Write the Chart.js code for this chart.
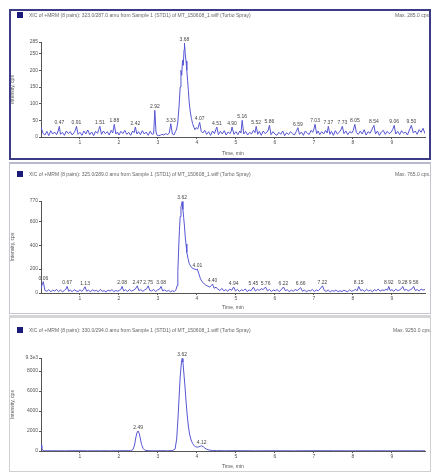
<!DOCTYPE html>
<html><head><meta charset="utf-8">
<script src="https://cdn.jsdelivr.net/npm/chart.js@4.4.1/dist/chart.umd.min.js"></script>
<style>
html,body{margin:0;padding:0;background:#fff;width:432px;height:474px;overflow:hidden;font-family:"Liberation Sans",Arial,sans-serif;}
.frame{position:absolute;box-sizing:border-box;}
canvas{position:absolute;}
.hdr{position:absolute;font-size:5px;color:#666;white-space:nowrap;line-height:6px;}
.sq{position:absolute;width:6px;height:6px;background:#1a1a7a;}
</style></head><body>
<div class="frame" style="left:9px;top:9px;width:422px;height:151px;border:2px solid #3b3b86;"></div>
<div class="frame" style="left:9px;top:162px;width:422px;height:152px;border:1px solid #c4c4d4;border-top:2px solid #b8b8cc;"></div>
<div class="frame" style="left:9px;top:315px;width:422px;height:157px;border:1px solid #d0d0d0;border-top:3px solid #d4d4d4;"></div>

<canvas id="c1" width="420" height="150" style="left:10px;top:9px;"></canvas>
<canvas id="c2" width="420" height="150" style="left:10px;top:163px;"></canvas>
<canvas id="c3" width="420" height="154" style="left:10px;top:318px;"></canvas>

<div class="sq" style="left:17px;top:12px;"></div>
<div class="hdr" style="left:29px;top:12px;">XIC of +MRM (8 pairs): 323.0/287.0 amu from Sample 1 (STD1) of MT_150608_1.wiff (Turbo Spray)</div>
<div class="hdr" style="left:395px;top:12px;">Max. 285.0 cps.</div>
<div class="sq" style="left:17px;top:171px;"></div>
<div class="hdr" style="left:29px;top:171px;">XIC of +MRM (8 pairs): 325.0/289.0 amu from Sample 1 (STD1) of MT_150608_1.wiff (Turbo Spray)</div>
<div class="hdr" style="left:395px;top:171px;">Max. 765.0 cps.</div>
<div class="sq" style="left:17px;top:327px;"></div>
<div class="hdr" style="left:29px;top:327px;">XIC of +MRM (8 pairs): 330.0/294.0 amu from Sample 1 (STD1) of MT_150608_1.wiff (Turbo Spray)</div>
<div class="hdr" style="left:393px;top:327px;">Max. 9250.0 cps.</div>

<script>
// ---------- data ----------
const xTicks = [1,2,3,4,5,6,7,8,9];

const times1 = [0,0.05,0.10,0.15,0.20,0.25,0.30,0.35,0.40,0.44,0.47,0.50,0.55,0.60,0.65,0.70,0.75,0.80,0.85,0.88,0.91,0.95,
1.00,1.05,1.10,1.15,1.20,1.25,1.30,1.35,1.40,1.45,1.48,1.51,1.55,1.60,1.65,1.70,1.75,1.80,1.84,1.88,1.92,1.96,
2.00,2.05,2.10,2.15,2.20,2.25,2.30,2.35,2.39,2.42,2.46,2.50,2.55,2.60,2.65,2.70,2.75,2.80,2.85,2.89,2.92,2.95,2.98,
3.02,3.06,3.10,3.15,3.20,3.25,3.29,3.33,3.37,3.41,3.45,3.48,3.51,3.54,3.57,3.59,3.61,3.63,3.65,3.67,3.68,3.70,3.72,3.74,3.76,3.78,3.80,3.83,3.86,3.89,3.92,3.95,3.98,
4.02,4.07,4.11,4.15,4.20,4.25,4.30,4.35,4.40,4.45,4.48,4.51,4.55,4.60,4.65,4.70,4.75,4.80,4.85,4.88,4.90,4.95,
5.00,5.05,5.10,5.13,5.16,5.20,5.25,5.30,5.35,5.40,5.45,5.49,5.52,5.56,5.60,5.65,5.70,5.75,5.80,5.83,5.86,5.90,5.95,
6.00,6.05,6.10,6.15,6.20,6.25,6.30,6.35,6.40,6.45,6.50,6.55,6.59,6.63,6.68,6.73,6.78,6.83,6.88,6.93,6.97,7.00,7.03,
7.07,7.11,7.15,7.20,7.25,7.30,7.34,7.37,7.41,7.45,7.50,7.55,7.60,7.65,7.69,7.73,7.77,7.82,7.87,7.92,7.97,
8.01,8.05,8.09,8.14,8.19,8.24,8.29,8.34,8.39,8.44,8.49,8.54,8.58,8.63,8.68,8.73,8.78,8.83,8.88,8.93,8.98,
9.02,9.06,9.10,9.15,9.20,9.25,9.30,9.35,9.40,9.45,9.50,9.55,9.60,9.65,9.70,9.75,9.80,9.85];
const counts1 = [30,11,6,17,4,19,9,15,7,18,32,8,14,5,18,10,16,6,13,20,32,8,
14,5,18,9,21,7,15,4,17,11,22,32,8,18,10,16,6,20,12,38,9,15,
6,17,10,20,8,14,5,18,13,30,9,16,7,19,9,15,5,17,8,10,80,15,5,
4,5,8,6,10,7,12,40,9,6,16,24,45,90,150,200,185,230,215,262,282,250,228,200,170,140,105,75,55,40,30,22,28,
24,44,17,12,20,8,16,5,18,10,21,30,7,17,9,19,6,15,10,18,30,8,
16,7,18,12,50,9,17,6,14,9,20,13,32,8,17,5,18,10,15,21,35,7,16,
9,5,14,8,18,4,13,7,16,10,6,17,28,8,15,5,18,11,8,20,14,24,38,
10,18,7,16,9,20,12,32,8,17,5,19,9,14,21,32,10,18,7,16,12,
20,38,13,8,18,9,22,6,16,11,23,35,9,18,5,15,20,8,17,10,14,
22,35,9,17,7,19,11,15,6,21,35,12,18,8,22,14,26,10];
const peakTimes1 = [0.47,0.91,1.51,1.88,2.42,2.92,3.33,3.68,4.07,4.51,4.90,5.16,5.52,5.86,6.59,7.03,7.37,7.73,8.05,8.54,9.06,9.50];
const peakCounts1 = [32,32,32,38,30,80,40,282,44,30,30,50,32,35,28,38,32,32,38,35,35,35];
const yTicks1 = [0,50,100,150,200,250,285];
const yLabels1 = ['0','50','100','150','200','250','285'];

const times2 = [0.00,0.03,0.06,0.10,0.15,0.20,0.25,0.30,0.35,0.40,0.45,0.50,0.55,0.60,0.64,0.67,0.71,0.75,0.80,0.85,0.90,0.95,
1.00,1.05,1.09,1.13,1.17,1.22,1.27,1.32,1.37,1.42,1.47,1.52,1.57,1.62,1.67,1.72,1.77,1.82,1.87,1.92,1.97,
2.02,2.05,2.08,2.12,2.17,2.22,2.27,2.32,2.37,2.42,2.47,2.51,2.56,2.61,2.66,2.71,2.75,2.79,2.84,2.89,2.94,2.99,3.04,3.08,3.12,
3.17,3.22,3.27,3.32,3.37,3.42,3.46,3.49,3.51,3.53,3.55,3.57,3.59,3.61,3.62,3.64,3.66,3.68,3.70,3.72,3.74,3.77,3.80,3.83,3.86,3.90,3.94,3.98,4.01,4.05,4.09,4.13,4.18,4.23,4.28,4.33,4.37,4.40,4.44,4.49,
4.54,4.59,4.64,4.69,4.74,4.79,4.84,4.89,4.94,4.99,5.04,5.09,5.14,5.19,5.24,5.29,5.34,5.39,5.45,5.50,5.55,5.60,5.65,5.70,5.76,5.81,5.86,5.91,5.96,
6.01,6.06,6.11,6.16,6.22,6.27,6.32,6.37,6.42,6.47,6.52,6.57,6.62,6.66,6.71,6.76,6.81,6.86,6.91,6.96,7.01,7.06,7.11,7.16,7.22,7.27,7.32,7.37,7.42,7.47,
7.52,7.57,7.62,7.67,7.72,7.77,7.82,7.87,7.92,7.97,8.02,8.07,8.11,8.15,8.20,8.25,8.30,8.35,8.40,8.45,8.50,8.55,8.60,8.65,8.70,8.75,8.80,8.85,8.89,8.92,8.96,
9.00,9.05,9.10,9.15,9.20,9.24,9.28,9.32,9.37,9.42,9.47,9.52,9.56,9.60,9.65,9.70,9.75,9.80,9.85];
const counts2 = [40,70,95,22,14,28,10,24,16,30,12,26,9,22,31,55,14,25,11,28,18,12,
27,13,30,52,15,24,9,27,17,22,11,29,14,20,8,25,16,28,12,21,15,
24,30,55,18,27,12,29,16,23,33,60,20,28,14,26,35,60,22,17,30,12,25,32,55,18,
26,14,22,10,19,12,25,60,180,360,520,640,720,745,765,700,630,560,470,410,340,290,250,230,215,205,200,195,200,160,120,95,80,65,58,50,62,75,40,48,
32,20,38,18,29,14,33,22,50,17,30,13,27,20,34,12,26,19,50,16,31,22,36,28,50,18,29,13,25,
18,30,11,27,50,19,28,10,24,15,29,20,33,45,14,26,9,22,17,30,12,25,19,35,60,20,15,24,10,21,
14,26,9,20,12,24,16,11,27,14,22,30,18,55,20,27,13,31,17,24,10,28,19,33,15,26,21,30,24,55,19,
28,15,32,20,26,35,55,22,30,18,27,36,55,21,29,16,33,24,30];
const peakTimes2 = [0.06,0.67,1.13,2.08,2.47,2.75,3.08,3.62,4.01,4.40,4.94,5.45,5.76,6.22,6.66,7.22,8.15,8.92,9.28,9.56];
const peakCounts2 = [95,55,52,55,60,60,55,765,200,75,50,50,50,50,45,60,55,55,55,55];
const yTicks2 = [0,200,400,600,770];
const yLabels2 = ['0','200','400','600','770'];

const times3 = [0.00,0.02,0.05,0.10,0.30,0.60,0.90,1.20,1.50,1.80,2.10,2.30,2.36,2.40,2.43,2.46,2.49,2.52,2.55,2.58,2.62,2.66,2.72,2.80,2.95,3.10,3.25,3.38,3.44,3.48,3.51,3.54,3.57,3.60,3.62,3.64,3.66,3.69,3.72,3.75,3.78,3.81,3.85,3.89,3.93,3.97,4.01,4.05,4.09,4.12,4.16,4.20,4.25,4.32,4.40,4.50,4.70,5.00,5.50,6.00,6.50,7.00,7.50,8.00,8.50,9.00,9.50,9.85];
const counts3 = [600,300,40,20,25,20,30,20,25,20,30,25,150,600,1300,1800,2000,1750,1200,650,250,90,40,25,20,30,20,40,200,1200,3000,5200,7400,8800,9250,8900,8000,6600,5000,3600,2500,1700,1100,750,520,420,380,420,480,520,430,300,170,90,50,35,25,30,20,25,20,30,25,20,25,20,25,20];
const peakTimes3 = [2.49,3.62,4.12];
const peakCounts3 = [2000,9250,520];
const yTicks3 = [0,2000,4000,6000,8000,9300];
const yLabels3 = ['0','2000','4000','6000','8000','9.3e3'];

// ---------- chart ----------
const FONT = "'Liberation Sans', Arial, sans-serif";
const TXT = '#555';
const LINE = '#5656d4';

function peakPlugin(pt, pv){
  return {
    id:'peaks',
    afterDatasetsDraw(chart){
      const ctx = chart.ctx, xs = chart.scales.x, ys = chart.scales.y;
      ctx.save();
      ctx.font = '5px ' + FONT;
      ctx.fillStyle = '#444';
      ctx.textAlign = 'center';
      ctx.textBaseline = 'bottom';
      pt.forEach((t,i)=>{
        ctx.fillText(t.toFixed(2), xs.getPixelForValue(t), ys.getPixelForValue(pv[i]) - 1);
      });
      ctx.restore();
    }
  };
}

function makeChart(id, times, counts, pt, pv, yt, yl, ymax, padTop, xH){
  const data = times.map((t,i)=>({x:t, y:counts[i]}));
  new Chart(document.getElementById(id), {
    type:'line',
    data:{datasets:[{data, borderColor:LINE, borderWidth:1, pointRadius:0, tension:0, fill:false}]},
    options:{
      responsive:false, animation:false, events:[],
      layout:{padding:{left:0,right:5,top:padTop,bottom:0}},
      plugins:{legend:{display:false}, tooltip:{enabled:false}},
      scales:{
        x:{type:'linear', min:0, max:9.85,
          afterBuildTicks(s){ s.ticks = xTicks.map(v=>({value:v})); },
          afterFit(s){ s.height = xH; },
          ticks:{autoSkip:false, maxRotation:0, padding:1, font:{size:5, family:FONT}, color:TXT},
          grid:{display:true, drawOnChartArea:false, drawTicks:true, tickLength:2, color:'#555'},
          border:{display:true, color:'#555', width:1},
          title:{display:true, text:'Time, min', font:{size:5, family:FONT}, color:TXT, padding:{top:1,bottom:2}}
        },
        y:{type:'linear', min:0, max:ymax,
          afterBuildTicks(s){ s.ticks = yt.map(v=>({value:v})); },
          afterFit(s){ s.width = 31; },
          ticks:{autoSkip:false, padding:1, font:{size:5, family:FONT}, color:TXT,
            callback(v){ const k = yt.indexOf(v); return k>=0 ? yl[k] : ''; }},
          grid:{display:true, drawOnChartArea:false, drawTicks:true, tickLength:2, color:'#555'},
          border:{display:true, color:'#555', width:1},
          title:{display:true, text:'Intensity, cps', font:{size:5, family:FONT}, color:TXT, padding:{top:0,bottom:0}}
        }
      }
    },
    plugins:[peakPlugin(pt, pv)]
  });
}

makeChart('c1', times1, counts1, peakTimes1, peakCounts1, yTicks1, yLabels1, 285, 33, 22);
makeChart('c2', times2, counts2, peakTimes2, peakCounts2, yTicks2, yLabels2, 770, 38, 20);
makeChart('c3', times3, counts3, peakTimes3, peakCounts3, yTicks3, yLabels3, 9300, 40, 21);
</script>
</body></html>
